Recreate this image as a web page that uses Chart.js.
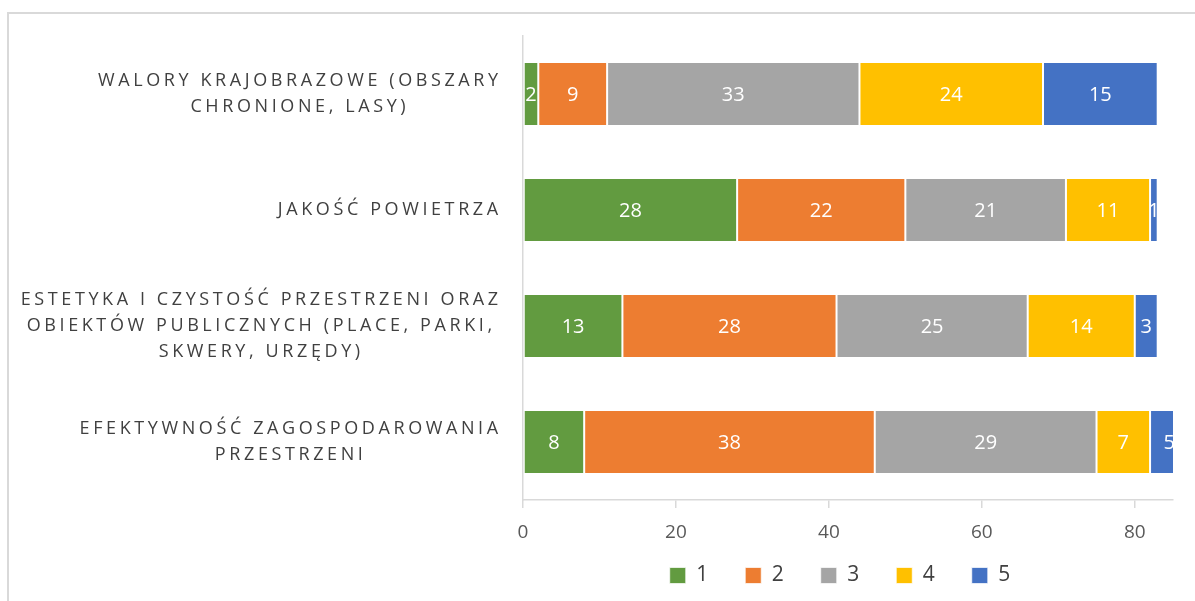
<!DOCTYPE html>
<html>
<head>
<meta charset="utf-8">
<script src="https://cdn.jsdelivr.net/npm/chart.js@4.4.0/dist/chart.umd.min.js"></script>
<style>
  body { margin: 0; background: #fff; }
  #frame { position: absolute; left: 7px; top: 12px; width: 1300px; height: 700px; border: 2px solid #d9d9d9; }
  #cvs { position: absolute; left: 0; top: 0; }
</style>
</head>
<body>
<div id="frame"></div>
<canvas id="cvs" width="1195" height="601"></canvas>
<script>
// categories, one array of lines per bar (top to bottom)
var categories = [
  ["WALORY KRAJOBRAZOWE (OBSZARY", "CHRONIONE, LASY)"],
  ["JAKOŚĆ POWIETRZA"],
  ["ESTETYKA I CZYSTOŚĆ PRZESTRZENI ORAZ", "OBIEKTÓW PUBLICZNYCH (PLACE, PARKI,", "SKWERY, URZĘDY)"],
  ["EFEKTYWNOŚĆ ZAGOSPODAROWANIA", "PRZESTRZENI"]
];
var seriesNames = ["1", "2", "3", "4", "5"];
var values1 = [2, 28, 13, 8];
var values2 = [9, 22, 28, 38];
var values3 = [33, 21, 25, 29];
var values4 = [24, 11, 14, 7];
var values5 = [15, 1, 3, 5];
var colors = ["#629B40", "#ED7D31", "#A5A5A5", "#FFC000", "#4472C4"];
var tickValues = [0, 20, 40, 60, 80];
var axisMax = 85;

var allValues = [values1, values2, values3, values4, values5];
var font = "'Open Sans', sans-serif";

var datasets = [];
for (var i = 0; i < seriesNames.length; i++) {
  datasets.push({
    label: seriesNames[i],
    data: allValues[i],
    backgroundColor: colors[i],
    borderColor: "rgba(255,255,255,0.7)",
    borderWidth: 1,
    borderSkipped: false,
    barPercentage: 0.55,
    categoryPercentage: 1
  });
}

// white numbers in the middle of each segment
var segmentLabels = {
  id: "segmentLabels",
  afterDatasetsDraw: function(chart) {
    var ctx = chart.ctx;
    var area = chart.chartArea;
    ctx.save();
    ctx.beginPath();
    ctx.rect(area.left, 0, area.right - area.left + 4, chart.height);
    ctx.clip();
    ctx.fillStyle = "#fff";
    ctx.font = "20px " + font;
    ctx.textAlign = "center";
    ctx.textBaseline = "middle";
    chart.data.datasets.forEach(function(ds, di) {
      chart.getDatasetMeta(di).data.forEach(function(el, j) {
        ctx.fillText(String(ds.data[j]), (el.x + el.base) / 2, el.y + 1);
      });
    });
    ctx.restore();
  }
};

// spaced-out category names left of the bars
var categoryLabels = {
  id: "categoryLabels",
  afterDraw: function(chart) {
    var ctx = chart.ctx;
    var yScale = chart.scales.y;
    var right = chart.chartArea.left - 22;
    var spacing = 3.6;
    ctx.save();
    ctx.font = "18px " + font;
    ctx.letterSpacing = spacing + "px";
    ctx.fillStyle = "#404040";
    ctx.textAlign = "center";
    ctx.textBaseline = "middle";
    categories.forEach(function(lines, i) {
      var cy = yScale.getPixelForValue(i);
      var w = 0;
      lines.forEach(function(t) { w = Math.max(w, ctx.measureText(t).width); });
      var cx = right - w / 2 + 0.2 * spacing;
      var y0 = cy - (lines.length - 1) * 13;
      lines.forEach(function(t, k) {
        ctx.fillText(t, cx, y0 + k * 26);
      });
    });
    ctx.restore();
  }
};

// legend sits under the plot, not under the whole canvas
var legendShift = {
  id: "legendShift",
  afterLayout: function(chart) {
    var lg = chart.legend;
    lg.left = chart.chartArea.left - 8;
    lg.right = chart.chartArea.right - 8;
    lg.width = lg.right - lg.left;
    lg.top = chart.chartArea.bottom + 28;
    lg.bottom = lg.top + lg.height;
  }
};

new Chart(document.getElementById("cvs"), {
  type: "bar",
  data: { labels: categories.map(function(c) { return c.join(" "); }), datasets: datasets },
  options: {
    indexAxis: "y",
    responsive: false,
    animation: false,
    devicePixelRatio: 1,
    layout: { padding: { top: 36, right: 22, bottom: -17, left: 0 } },
    scales: {
      x: {
        stacked: true,
        min: 0,
        max: axisMax,
        ticks: { stepSize: 20, color: "#595959", font: { family: font, size: 19 }, padding: 13 },
        afterBuildTicks: function(scale) {
          scale.ticks = tickValues.map(function(v) { return { value: v }; });
        },
        grid: { drawOnChartArea: false, drawTicks: true, tickLength: 8, color: "#d9d9d9", lineWidth: 1.5 },
        border: { color: "#d9d9d9", width: 1.5 },
        afterFit: function(scale) { scale.height = 50; }
      },
      y: {
        stacked: true,
        ticks: { display: false },
        grid: { display: false },
        border: { color: "#d9d9d9", width: 1.5 },
        afterFit: function(scale) { scale.width = 523; }
      }
    },
    plugins: {
      legend: {
        position: "bottom",
        labels: {
          boxWidth: 16,
          boxHeight: 16,
          padding: 37,
          color: "#404040",
          font: { family: font, size: 21 }
        }
      },
      tooltip: { enabled: false }
    }
  },
  plugins: [segmentLabels, categoryLabels, legendShift]
});
</script>
</body>
</html>
